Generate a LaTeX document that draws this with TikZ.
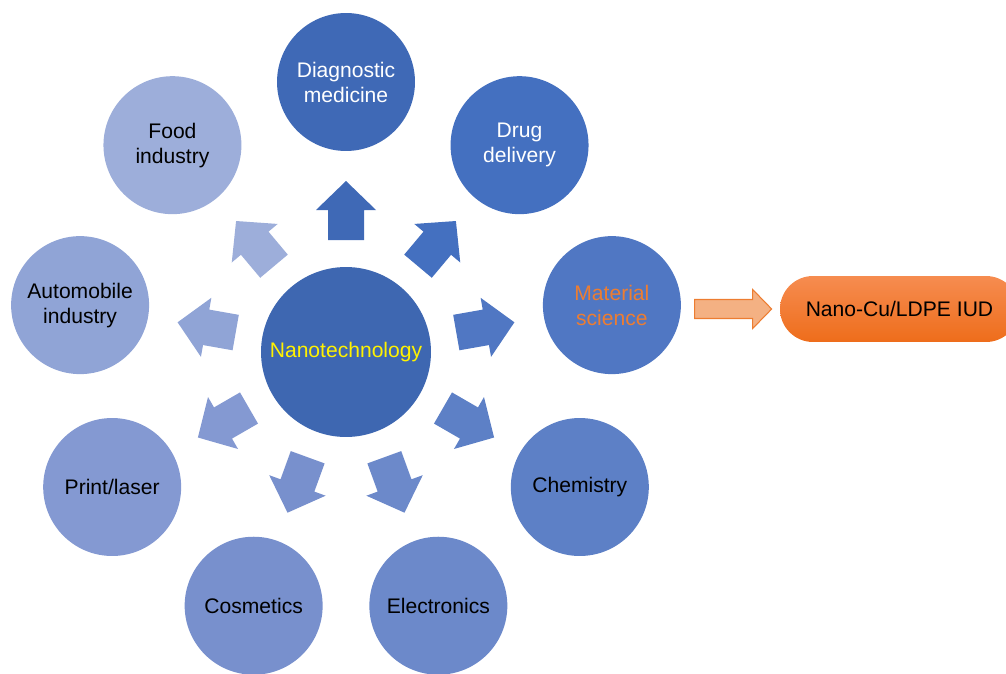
\documentclass[tikz,border=0pt]{standalone}
\usepackage{fontspec}
\setmainfont{Liberation Sans}
\usetikzlibrary{calc}
\definecolor{cnano}{HTML}{3E67B1}
\definecolor{cdiag}{HTML}{3F69B6}
\definecolor{cdrug}{HTML}{4470C0}
\definecolor{cmat}{HTML}{5077C3}
\definecolor{cchem}{HTML}{5D80C6}
\definecolor{celec}{HTML}{6C89CA}
\definecolor{ccosm}{HTML}{7890CD}
\definecolor{cprint}{HTML}{8499D2}
\definecolor{cauto}{HTML}{90A4D6}
\definecolor{cfood}{HTML}{9DAEDA}
\definecolor{orline}{HTML}{ED7D31}
\definecolor{orfill}{HTML}{F4B183}
\definecolor{ortop}{HTML}{F68C50}
\definecolor{orbot}{HTML}{EE6D1B}
\tikzset{
  topic/.style={circle,minimum size=2.76cm,inner sep=0pt,align=center,font=\fontsize{12}{14.2}\selectfont},
}
\begin{document}
\begin{tikzpicture}[x=0.02cm,y=0.02cm]
\useasboundingbox (-346,-321) rectangle (660,352);
\pgfmathsetmacro{\R}{270}
\node[topic,fill=cnano,minimum size=3.4cm,text=yellow] (nano) at (0,0) {Nanotechnology};
\node[topic,fill=cdiag,text=white] (diag) at (90:\R) {Diagnostic\\medicine};
\node[topic,fill=cdrug,text=white] (drug) at (50:\R) {Drug\\delivery};
\node[topic,fill=cmat,text=orline] (mat) at (10:\R) {Material\\science};
\node[topic,fill=cchem] (chem) at (-30:\R) {Chemistry};
\node[topic,fill=celec] (elec) at (-70:\R) {Electronics};
\node[topic,fill=ccosm] (cosm) at (-110:\R) {Cosmetics};
\node[topic,fill=cprint] (print) at (-150:\R) {Print/laser};
\node[topic,fill=cauto] (auto) at (170:\R) {Automobile\\industry};
\node[topic,fill=cfood] (food) at (130:\R) {Food\\industry};
%block arrows out of the centre
\foreach \a/\c in {90/cdiag,50/cdrug,10/cmat,-30/cchem,-70/celec,-110/ccosm,-150/cprint,170/cauto,130/cfood}
  \fill[\c,rotate=\a] (112,-18)--(142,-18)--(142,-30)--(171,0)--(142,30)--(142,18)--(112,18)--cycle;
\node[rounded corners=0.66cm,minimum width=4.78cm,minimum height=1.32cm,top color=ortop,bottom color=orbot,font=\fontsize{12}{14.2}\selectfont] (iud) at (553.5,43) {Nano-Cu/LDPE IUD};
\draw[orline,fill=orfill,line width=0.6pt] ($(iud.west)+(-8,0)$)--++(-19,19.5)--++(0,-10)--++(-58,0)--++(0,-19)--++(58,0)--++(0,-10)--cycle;
\end{tikzpicture}
\end{document}
